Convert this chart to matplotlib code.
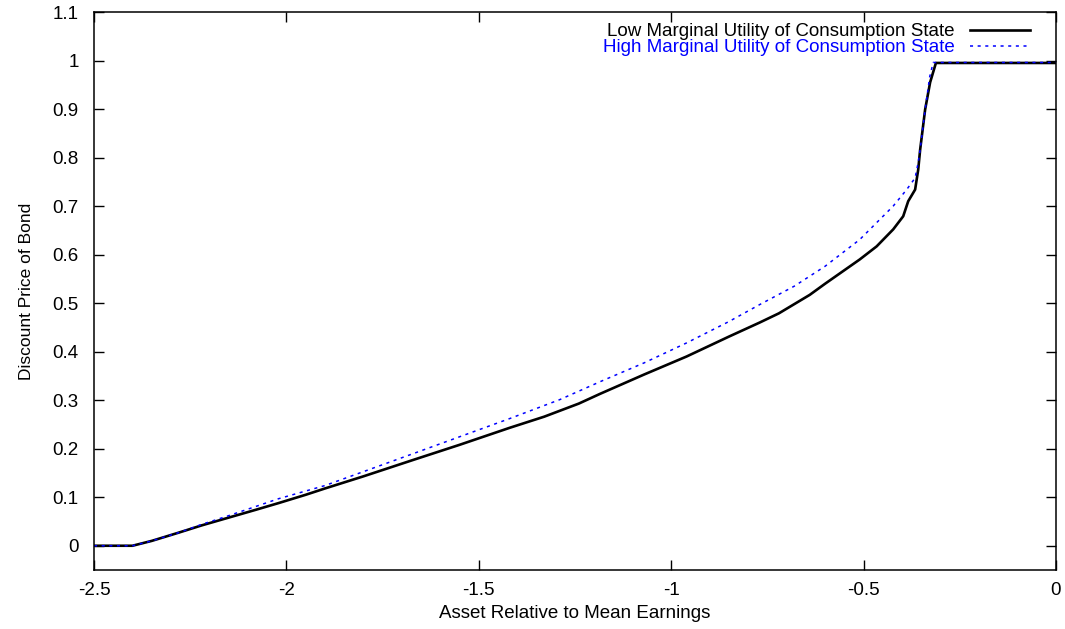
import matplotlib
matplotlib.use("Agg")
import matplotlib.pyplot as plt

plt.rcParams["font.family"] = ["Liberation Sans", "DejaVu Sans"]

# bond price schedules, low / high marginal utility state
low_x = [-2.5, -2.40, -2.35, -2.28, -2.22, -2.15, -2.08, -2.02, -1.95, -1.90,
         -1.80, -1.67, -1.55, -1.42, -1.33, -1.24, -1.185, -1.07, -0.96, -0.85,
         -0.77, -0.72, -0.64, -0.60, -0.51, -0.466, -0.423, -0.397, -0.384,
         -0.366, -0.358, -0.353, -0.34, -0.327, -0.312, 0.0]
low_y = [0.0, 0.0, 0.01, 0.027, 0.042, 0.058, 0.074, 0.088, 0.105, 0.118,
         0.143, 0.177, 0.208, 0.243, 0.266, 0.293, 0.313, 0.353, 0.39, 0.431,
         0.46, 0.479, 0.517, 0.54, 0.59, 0.617, 0.652, 0.679, 0.71,
         0.734, 0.775, 0.816, 0.899, 0.955, 0.995, 0.995]

high_x = [-2.5, -2.40, -2.35, -2.28, -2.22, -2.15, -2.02, -1.90, -1.67, -1.42,
          -1.29, -1.185, -1.07, -0.96, -0.85, -0.77, -0.68, -0.60, -0.51,
          -0.423, -0.388, -0.366, -0.358, -0.353, -0.34, -0.328, -0.319, 0.0]
high_y = [0.0, 0.0, 0.01, 0.027, 0.044, 0.062, 0.097, 0.124, 0.19, 0.262,
          0.301, 0.338, 0.377, 0.418, 0.462, 0.497, 0.535, 0.576, 0.631,
          0.70, 0.734, 0.758, 0.79, 0.816, 0.899, 0.967, 0.996, 0.996]

x_ticks = [-2.5, -2, -1.5, -1, -0.5, 0]
y_ticks = [0, 0.1, 0.2, 0.3, 0.4, 0.5, 0.6, 0.7, 0.8, 0.9, 1, 1.1]

fig = plt.figure(figsize=(10.65, 6.29), dpi=100)
ax = fig.add_axes([0.0883, 0.0938, 0.9032, 0.8871])

ax.plot(low_x, low_y, color="black", lw=1.9,
        label="Low Marginal Utility of Consumption State")
ax.plot(high_x, high_y, color="blue", lw=1.1, dashes=(2, 3),
        label="High Marginal Utility of Consumption State")

ax.set_xlim(-2.5, 0)
ax.set_ylim(-0.05, 1.1)
ax.set_xticks(x_ticks)
ax.set_xticklabels(["%g" % t for t in x_ticks])
ax.set_yticks(y_ticks)
ax.set_yticklabels(["%g" % t for t in y_ticks])
ax.tick_params(direction="in", length=7, width=1, top=True, right=True,
               labelsize=13.5)
ax.tick_params(axis="y", pad=11)
ax.tick_params(axis="x", pad=9)
for s in ax.spines.values():
    s.set_linewidth(1.1)

ax.set_xlabel("Asset Relative to Mean Earnings", fontsize=13.5, labelpad=4)
ax.set_ylabel("Discount Price of Bond", fontsize=12.5, labelpad=13)

leg = ax.legend(loc="upper right", bbox_to_anchor=(0.973, 0.98),
                frameon=False, markerfirst=False, fontsize=13.5,
                handlelength=3.2, handletextpad=0.8, labelspacing=-0.05,
                borderpad=0, borderaxespad=0, labelcolor=["black", "blue"])

fig.savefig("out.png", dpi=100)
